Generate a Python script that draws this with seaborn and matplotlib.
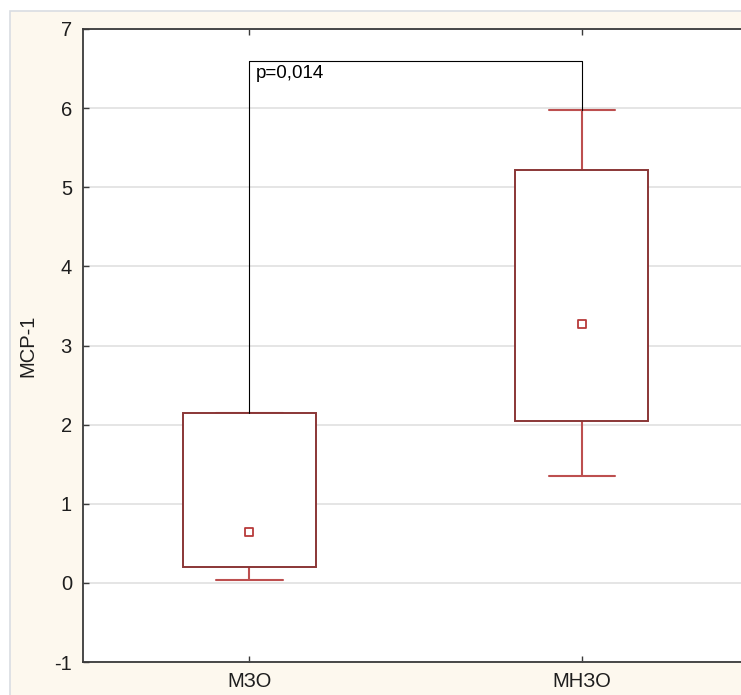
import numpy as np
import pandas as pd
import matplotlib
matplotlib.use("Agg")
import matplotlib.pyplot as plt
from matplotlib.patches import Rectangle
import seaborn as sns

# ---- data ----
categories = ["МЗО", "МНЗО"]
whisker_low = [0.04, 1.35]
q1 = [0.20, 2.05]
median = [0.64, 3.27]
q3 = [2.15, 5.22]
whisker_high = [2.15, 5.97]
y_ticks = [-1, 0, 1, 2, 3, 4, 5, 6, 7]
y_label = "MCP-1"
p_text = "p=0,014"
bracket_level = 6.6

# five-number summaries as long-format table
rows = []
for i, c in enumerate(categories):
    for v in (whisker_low[i], q1[i], median[i], q3[i], whisker_high[i]):
        rows.append({"group": c, "value": v})
df = pd.DataFrame(rows)
med_df = pd.DataFrame({"group": categories, "value": median})

sns.set_theme(style="white")
plt.rcParams["font.family"] = ["Liberation Sans", "DejaVu Sans"]
plt.rcParams["axes.unicode_minus"] = False

box_edge = "#8a3636"
whisk_col = "#bd4f4f"
text_col = "#1e1e1e"

fig = plt.figure(figsize=(7.41, 6.95), dpi=100, facecolor="white")
# beige panel behind the axes
panel = Rectangle((10 / 741, -0.01), 1.0, 1 - 11 / 695 + 0.01,
                  transform=fig.transFigure, facecolor="#fdf8ee",
                  edgecolor="#d9dde2", linewidth=1.2, zorder=0)
fig.add_artist(panel)

ax = fig.add_axes([83 / 741, 33 / 695, 665 / 741, 633 / 695])
ax.set_facecolor("white")

sns.boxplot(data=df, x="group", y="value", order=categories, ax=ax,
            width=0.4, color="white", saturation=1, linecolor=box_edge,
            linewidth=1.4, whis=10, fliersize=0,
            boxprops={"zorder": 3},
            medianprops={"visible": False},
            whiskerprops={"color": whisk_col, "linewidth": 1.5, "zorder": 2},
            capprops={"color": whisk_col, "linewidth": 1.5, "zorder": 2})

sns.scatterplot(data=med_df, x="group", y="value", ax=ax, marker="s", s=30,
                facecolor="white", edgecolor="#b83a3a", linewidth=1.3,
                zorder=5, legend=False)

# significance bracket
ax.plot([0, 0, 1, 1], [q3[0], bracket_level, bracket_level, whisker_high[1]],
        color="black", linewidth=0.8, zorder=4)
ax.text(0.02, 6.44, p_text, fontsize=13.6, color="black", ha="left", va="center")

ax.set_xlim(-0.5, 1.5)
ax.set_ylim(-1, 7)
ax.set_yticks(y_ticks)
ax.yaxis.grid(True, color="#e0e0e0", linewidth=1.2)
ax.xaxis.grid(False)
ax.set_axisbelow(True)

for side in ["left", "bottom", "top"]:
    ax.spines[side].set_visible(True)
    ax.spines[side].set_color("#3a3a3a")
    ax.spines[side].set_linewidth(1.3)
ax.spines["right"].set_visible(False)

ax.tick_params(axis="both", direction="in", length=4, width=1, color="#3a3a3a",
               labelsize=14.5, labelcolor=text_col, pad=8)
ax.tick_params(axis="x", top=True, bottom=True, pad=7)
ax.tick_params(axis="y", left=True, right=False)

ax.set_xlabel("")
ax.set_ylabel(y_label, fontsize=14.5, color=text_col)
ax.yaxis.set_label_coords(-0.069, 0.5)

fig.savefig("out.png", dpi=100, facecolor="white")
